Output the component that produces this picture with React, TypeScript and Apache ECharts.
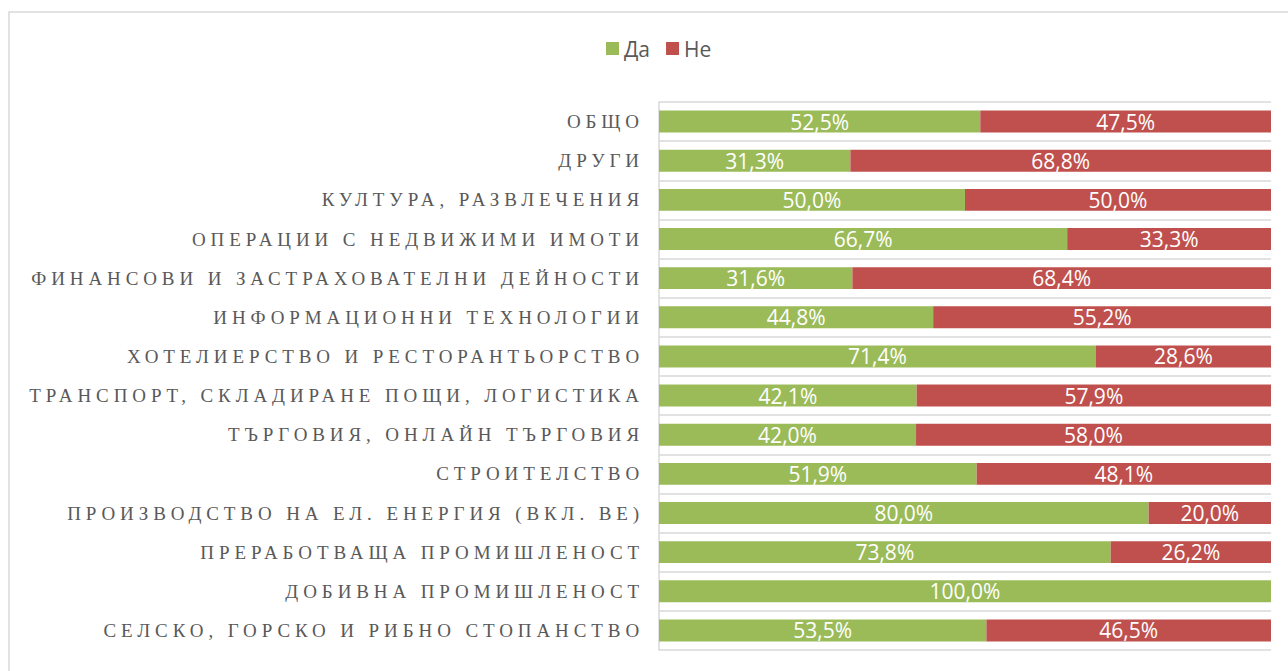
import React, { useEffect, useRef } from "react";
import * as echarts from "echarts";

const categories = [
  "ОБЩО",
  "ДРУГИ",
  "КУЛТУРА, РАЗВЛЕЧЕНИЯ",
  "ОПЕРАЦИИ С НЕДВИЖИМИ ИМОТИ",
  "ФИНАНСОВИ И ЗАСТРАХОВАТЕЛНИ ДЕЙНОСТИ",
  "ИНФОРМАЦИОННИ ТЕХНОЛОГИИ",
  "ХОТЕЛИЕРСТВО И РЕСТОРАНТЬОРСТВО",
  "ТРАНСПОРТ, СКЛАДИРАНЕ ПОЩИ, ЛОГИСТИКА",
  "ТЪРГОВИЯ, ОНЛАЙН ТЪРГОВИЯ",
  "СТРОИТЕЛСТВО",
  "ПРОИЗВОДСТВО НА ЕЛ. ЕНЕРГИЯ (ВКЛ. ВЕ)",
  "ПРЕРАБОТВАЩА ПРОМИШЛЕНОСТ",
  "ДОБИВНА ПРОМИШЛЕНОСТ",
  "СЕЛСКО, ГОРСКО И РИБНО СТОПАНСТВО",
];

const yesValues = [52.5, 31.3, 50.0, 66.7, 31.6, 44.8, 71.4, 42.1, 42.0, 51.9, 80.0, 73.8, 100.0, 53.5];
const noValues = [47.5, 68.8, 50.0, 33.3, 68.4, 55.2, 28.6, 57.9, 58.0, 48.1, 20.0, 26.2, 0, 46.5];

const seriesNames = ["Да", "Не"];
const colors = ["#9BBB59", "#C0504D"];

const fmt = (v: number) => (v === 0 ? "" : v.toFixed(1).replace(".", ",") + "%");

export default function App() {
  const ref = useRef<HTMLDivElement>(null);

  useEffect(() => {
    if (!ref.current) return;
    const chart = echarts.init(ref.current, null, { renderer: "svg" });
    const totals = yesValues.map((y, i) => y + noValues[i]);
    const raw = [yesValues, noValues];

    chart.setOption({
      animation: false,
      graphic: [
        {
          type: "rect",
          shape: { x: 9, y: 12, width: 1400, height: 800 },
          style: { fill: "none", stroke: "#d9d9d9", lineWidth: 1.5 },
          silent: true,
        },
      ],
      legend: {
        data: seriesNames,
        top: 33,
        left: 601,
        itemWidth: 13,
        itemHeight: 13,
        itemGap: 16,
        icon: "rect",
        textStyle: { color: "#595959", fontSize: 21, fontFamily: "Open Sans" },
      },
      grid: { left: 659, right: 17, top: 102, bottom: 21, containLabel: false },
      xAxis: {
        type: "value",
        min: 0,
        max: 100,
        show: false,
      },
      yAxis: {
        type: "category",
        inverse: true,
        data: categories,
        axisTick: { show: false },
        axisLine: { show: true, lineStyle: { color: "#d9d9d9", width: 1.5 } },
        splitLine: { show: true, lineStyle: { color: "#d9d9d9", width: 1.5 } },
        axisLabel: {
          color: "#595959",
          fontSize: 19,
          fontFamily: "Liberation Serif",
          margin: 15,
        },
      },
      series: seriesNames.map((name, s) => ({
        name,
        type: "bar",
        stack: "total",
        barCategoryGap: "44%",
        itemStyle: { color: colors[s] },
        label: {
          show: true,
          position: "inside",
          color: "#ffffff",
          fontSize: 21,
          fontFamily: "Open Sans",
          formatter: (p: any) => fmt(raw[s][p.dataIndex]),
        },
        data: raw[s].map((v, i) => (v / totals[i]) * 100),
      })),
    });

    const texts = ref.current.querySelectorAll("text");
    texts.forEach((t) => {
      if (categories.includes((t.textContent || "").trim())) {
        (t as SVGTextElement).style.letterSpacing = "4.9px";
      }
    });

    return () => chart.dispose();
  }, []);

  return (
    <div
      ref={ref}
      style={{ position: "absolute", left: 0, top: 0, width: 1288, height: 671, background: "#fff" }}
    />
  );
}
